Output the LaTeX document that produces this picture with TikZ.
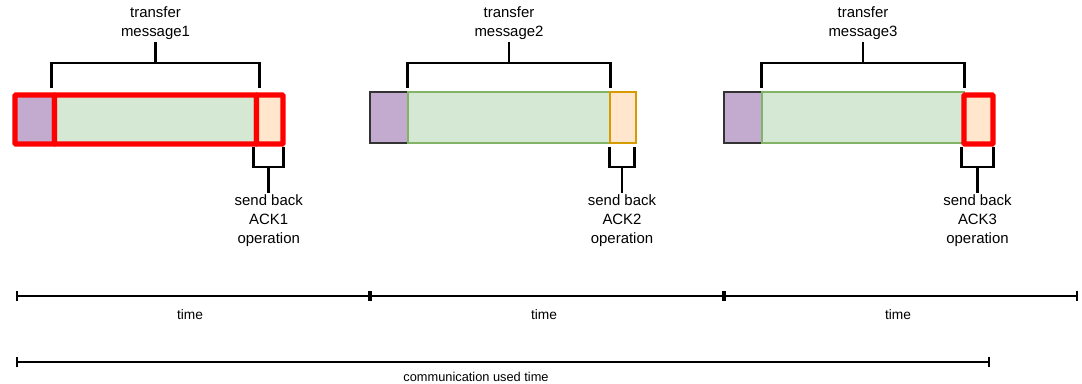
\documentclass[tikz,border=0pt]{standalone}
\usepackage{fontspec}
\setmainfont{Liberation Sans}
\usetikzlibrary{arrows.meta,calc}

\definecolor{purpfill}{HTML}{C3ABD0}
\definecolor{purpline}{HTML}{333333}
\definecolor{greenfill}{HTML}{D5E8D4}
\definecolor{greenline}{HTML}{82B366}
\definecolor{orfill}{HTML}{FFE6CC}
\definecolor{orline}{HTML}{D79B00}
\definecolor{hired}{HTML}{FF0000}

\tikzset{
  cell/.style={rectangle, inner sep=0pt, line width=1.1pt},
  purp/.style={cell, fill=purpfill, draw=purpline},
  grn/.style={cell, fill=greenfill, draw=greenline},
  org/.style={cell, fill=orfill, draw=orline},
  hilite/.style={draw=hired, line width=4.1pt, rounded corners=0.8pt},
  brk/.style={line width=2.2pt, line join=miter, draw=black},
  lbl/.style={font=\fontsize{11.2}{14.2}\selectfont, align=center, inner sep=1.5pt},
  tlbl/.style={font=\fontsize{10.3}{12}\selectfont, inner sep=0pt},
  clbl/.style={font=\fontsize{9.6}{12}\selectfont, inner sep=0pt},
  tbar/.style={line width=1.4pt, {Bar[width=8pt]}-{Bar[width=8pt]}},
}

\begin{document}
\begin{tikzpicture}[x=0.75pt, y=-0.75pt]
\useasboundingbox (0,0) rectangle (1082,384);

% message frames: header, payload, acknowledgement
\node[purp, hilite, minimum width=39.5*0.75pt, minimum height=49*0.75pt] (p1) at (34.75,119.5) {};
\node[grn, hilite, minimum width=202*0.75pt, minimum height=49*0.75pt] (g1) at (155.5,119.5) {};
\node[org, hilite, minimum width=26.5*0.75pt, minimum height=49*0.75pt] (o1) at (269.75,119.5) {};

\node[purp, minimum width=38*0.75pt, minimum height=51*0.75pt] (p2) at (389,117.5) {};
\node[grn, minimum width=202*0.75pt, minimum height=51*0.75pt] (g2) at (509,117.5) {};
\node[org, minimum width=26*0.75pt, minimum height=51*0.75pt] (o2) at (623,117.5) {};

\node[purp, minimum width=38*0.75pt, minimum height=51*0.75pt] (p3) at (743,117.5) {};
\node[grn, minimum width=202*0.75pt, minimum height=51*0.75pt] (g3) at (863,117.5) {};
\node[org, hilite, minimum width=29*0.75pt, minimum height=49*0.75pt] (o3) at (978.5,119.5) {};

% labels above and below
\foreach \i in {1,2,3} {
  \node[lbl] (m\i) at (g\i.center |- 0,23) {transfer\\message\i};
  \node[lbl] (a\i) at ($(o\i.center |- 0,221)+(-1,0)$) {send back\\ACK\i\\operation};
  % bracket over the payload
  \draw[brk] (g\i.north west |- 0,88) -- (g\i.north west |- 0,63)
             -- (g\i.north east |- 0,63) -- (g\i.north east |- 0,88);
  \draw[brk] (m\i.south) -- (m\i.south |- 0,63);
  % bracket under the acknowledgement
  \draw[brk] (o\i.south west |- 0,147) -- (o\i.south west |- 0,167)
             -- ($(o\i.south east |- 0,167)+(-2,0)$) -- ($(o\i.south east |- 0,147)+(-2,0)$);
  \draw[brk] (a\i.north) -- (a\i.north |- 0,167);
}

% time axis
\coordinate (c0) at (16,296);
\coordinate (c1) at (370,296);
\coordinate (c2) at (724,296);
\coordinate (c3) at (1078,296);
\draw[tbar] (c0) -- (c1);
\draw[tbar] (c1) -- (c2);
\draw[tbar] (c2) -- (c3);
\node[tlbl] (tm1) at (190,315) {time};
\node[tlbl] (tm2) at (544,315) {time};
\node[tlbl] (tm3) at (898,315) {time};

% total communication time
\coordinate (d0) at (16,362);
\coordinate (d1) at (990,362);
\draw[tbar] (d0) -- (d1);
\node[clbl] (cu) at (476,377) {communication used time};
\end{tikzpicture}
\end{document}
